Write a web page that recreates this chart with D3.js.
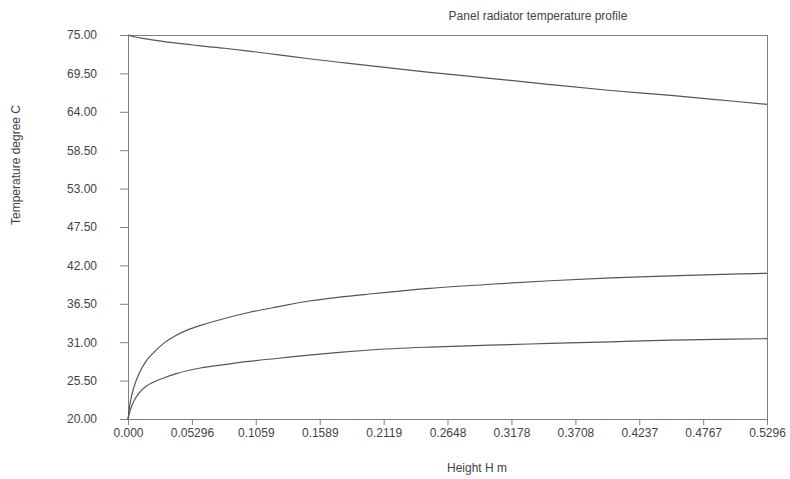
<!DOCTYPE html>
<html>
<head>
<meta charset="utf-8">
<script src="https://cdn.jsdelivr.net/npm/d3@7"></script>
<style>
  body { margin: 0; background: #fff; }
  text { font-family: Arial, "Liberation Sans", sans-serif; font-size: 12px; fill: #444; }
</style>
</head>
<body>
<div id="chart"></div>
<script>
// height positions (m)
const heights = [0, 0.002, 0.005, 0.01, 0.015, 0.02, 0.03, 0.04, 0.05, 0.06, 0.08, 0.1,
  0.125, 0.15, 0.175, 0.2, 0.25, 0.3, 0.35, 0.4, 0.45, 0.5, 0.5296];

// temperatures (degree C)
const waterTemp = [75, 74.9, 74.75, 74.6, 74.45, 74.3, 74.05, 73.85, 73.65, 73.45, 73.1, 72.7,
  72.15, 71.6, 71.1, 70.6, 69.65, 68.8, 67.9, 67.05, 66.35, 65.55, 65.07];
const surfaceTemp = [20, 22.5, 24.6, 26.8, 28.3, 29.3, 30.9, 32.0, 32.8, 33.4, 34.4, 35.25,
  36.1, 36.9, 37.45, 37.9, 38.7, 39.3, 39.8, 40.2, 40.5, 40.75, 40.87];
const airTemp = [20, 21.3, 22.6, 23.9, 24.7, 25.2, 25.9, 26.5, 26.95, 27.3, 27.8, 28.25,
  28.7, 29.15, 29.55, 29.88, 30.3, 30.58, 30.82, 31.05, 31.3, 31.45, 31.5];

const xTickLabels = ["0.000", "0.05296", "0.1059", "0.1589", "0.2119", "0.2648",
  "0.3178", "0.3708", "0.4237", "0.4767", "0.5296"];
const yTickLabels = ["20.00", "25.50", "31.00", "36.50", "42.00", "47.50",
  "53.00", "58.50", "64.00", "69.50", "75.00"];

const width = 790, height = 479;
const margin = { left: 128, right: 23, top: 35, bottom: 60 };

const svg = d3.select("#chart").append("svg")
  .attr("width", width)
  .attr("height", height);

const x = d3.scaleLinear().domain([0, 0.5296]).range([margin.left, width - margin.right]);
const y = d3.scaleLinear().domain([20, 75]).range([height - margin.bottom, margin.top]);

const axisColor = "#808080";

// x axis
const xAxis = d3.axisBottom(x)
  .tickValues(xTickLabels.map(Number))
  .tickFormat((d, i) => xTickLabels[i])
  .tickSizeInner(6).tickSizeOuter(0).tickPadding(3);
const gx = svg.append("g")
  .attr("transform", `translate(0,${y(20)})`)
  .call(xAxis);
gx.select(".domain").remove();
gx.selectAll("line").attr("stroke", axisColor);
gx.selectAll("text").style("font-size", "12px").attr("fill", "#444");

// y axis
const yAxis = d3.axisLeft(y)
  .tickValues(yTickLabels.map(Number))
  .tickFormat((d, i) => yTickLabels[i])
  .tickSizeInner(8).tickSizeOuter(0).tickPadding(23);
const gy = svg.append("g")
  .attr("transform", `translate(${x(0)},0)`)
  .call(yAxis);
gy.select(".domain").remove();
gy.selectAll("line").attr("stroke", axisColor);
gy.selectAll("text").style("font-size", "12px").attr("fill", "#444");

// frame lines
const frame = svg.append("g").attr("stroke", axisColor).attr("stroke-width", 1);
frame.append("line")
  .attr("x1", x(0) + 0.5).attr("x2", x(0) + 0.5)
  .attr("y1", y(75)).attr("y2", y(20));
frame.append("line")
  .attr("x1", x(0)).attr("x2", x(0.5296))
  .attr("y1", y(20) + 0.5).attr("y2", y(20) + 0.5);
frame.append("line")
  .attr("x1", x(0)).attr("x2", x(0.5296))
  .attr("y1", y(75) + 0.5).attr("y2", y(75) + 0.5);
frame.append("line")
  .attr("x1", x(0.5296) + 0.5).attr("x2", x(0.5296) + 0.5)
  .attr("y1", y(75)).attr("y2", y(20));

// curves
const line = d3.line()
  .x((d, i) => x(heights[i]))
  .y(d => y(d))
  .curve(d3.curveMonotoneX);

[waterTemp, surfaceTemp, airTemp].forEach(series => {
  svg.append("path")
    .datum(series)
    .attr("fill", "none")
    .attr("stroke", "#555")
    .attr("stroke-width", 1.2)
    .attr("d", line);
});

// titles
svg.append("text")
  .attr("x", 538).attr("y", 20)
  .attr("text-anchor", "middle")
  .text("Panel radiator temperature profile");

svg.append("text")
  .attr("x", 477).attr("y", 472)
  .attr("text-anchor", "middle")
  .text("Height H m");

svg.append("text")
  .attr("transform", "translate(20,165) rotate(-90)")
  .attr("text-anchor", "middle")
  .text("Temperature degree C");
</script>
</body>
</html>
